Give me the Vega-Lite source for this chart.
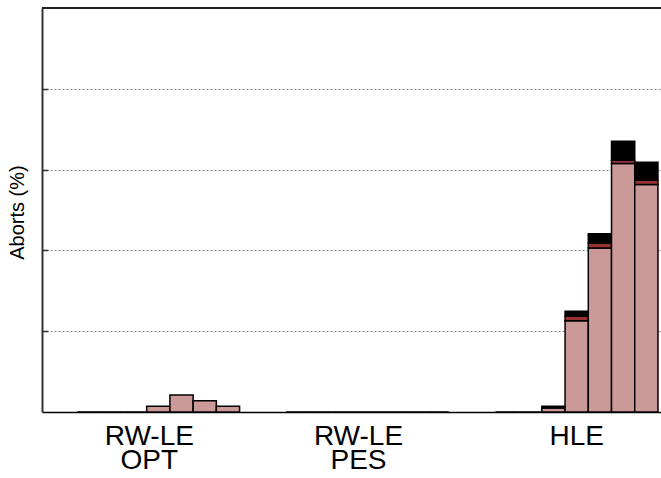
{
  "$schema": "https://vega.github.io/schema/vega-lite/v6.json",
  "width": 619,
  "height": 404,
  "autosize": {"type": "none"},
  "padding": {"left": 42, "top": 8, "right": 0, "bottom": 66},
  "background": "white",
  "config": {
    "view": {"stroke": null},
    "font": "Liberation Sans"
  },
  "data": {
    "values": [
      {"config": "RW-LE OPT", "threads": 1, "type": "a", "pct": 0},
      {"config": "RW-LE OPT", "threads": 2, "type": "a", "pct": 0},
      {"config": "RW-LE OPT", "threads": 3, "type": "a", "pct": 0},
      {"config": "RW-LE OPT", "threads": 4, "type": "a", "pct": 1.4},
      {"config": "RW-LE OPT", "threads": 5, "type": "a", "pct": 4.2},
      {"config": "RW-LE OPT", "threads": 6, "type": "a", "pct": 2.8},
      {"config": "RW-LE OPT", "threads": 7, "type": "a", "pct": 1.4},
      {"config": "RW-LE PES", "threads": 1, "type": "a", "pct": 0},
      {"config": "RW-LE PES", "threads": 2, "type": "a", "pct": 0},
      {"config": "RW-LE PES", "threads": 3, "type": "a", "pct": 0},
      {"config": "RW-LE PES", "threads": 4, "type": "a", "pct": 0},
      {"config": "RW-LE PES", "threads": 5, "type": "a", "pct": 0},
      {"config": "RW-LE PES", "threads": 6, "type": "a", "pct": 0},
      {"config": "RW-LE PES", "threads": 7, "type": "a", "pct": 0},
      {"config": "HLE", "threads": 1, "type": "a", "pct": 0},
      {"config": "HLE", "threads": 2, "type": "a", "pct": 0},
      {"config": "HLE", "threads": 3, "type": "a", "pct": 1.0},
      {"config": "HLE", "threads": 3, "type": "c", "pct": 0.45},
      {"config": "HLE", "threads": 4, "type": "a", "pct": 22.6},
      {"config": "HLE", "threads": 4, "type": "b", "pct": 1.07},
      {"config": "HLE", "threads": 4, "type": "c", "pct": 1.24},
      {"config": "HLE", "threads": 5, "type": "a", "pct": 40.6},
      {"config": "HLE", "threads": 5, "type": "b", "pct": 1.24},
      {"config": "HLE", "threads": 5, "type": "c", "pct": 2.3},
      {"config": "HLE", "threads": 6, "type": "a", "pct": 61.5},
      {"config": "HLE", "threads": 6, "type": "b", "pct": 0.83},
      {"config": "HLE", "threads": 6, "type": "c", "pct": 4.7},
      {"config": "HLE", "threads": 7, "type": "a", "pct": 56.3},
      {"config": "HLE", "threads": 7, "type": "b", "pct": 1.07},
      {"config": "HLE", "threads": 7, "type": "c", "pct": 4.47}
    ]
  },
  "layer": [
    {
      "mark": {"type": "bar", "stroke": "black", "strokeWidth": 1.5},
      "encoding": {
        "x": {
          "field": "config",
          "type": "nominal",
          "sort": ["RW-LE OPT", "RW-LE PES", "HLE"],
          "scale": {"paddingInner": 0.223, "paddingOuter": 0.091, "align": 0.92},
          "axis": {
            "title": null,
            "labelExpr": "split(datum.label, ' ')",
            "labelAngle": 0,
            "labelFontSize": 28,
            "labelColor": "black",
            "labelLineHeight": 24,
            "labelPadding": 10,
            "labelOffset": {"expr": "datum.value == 'HLE' ? 0 : -9"},
            "ticks": false,
            "domainColor": "black",
            "domainWidth": 1.5,
            "grid": false
          }
        },
        "xOffset": {
          "field": "threads",
          "type": "ordinal",
          "scale": {"paddingInner": 0, "paddingOuter": 0}
        },
        "y": {
          "field": "pct",
          "type": "quantitative",
          "stack": "zero",
          "scale": {"domain": [0, 100], "nice": false},
          "axis": {
            "title": "Aborts (%)",
            "titleFontSize": 20,
            "titleFontWeight": "normal",
            "titleColor": "black",
            "titleX": -25,
            "titleY": 204,
            "titleAngle": -90,
            "titleAlign": "center",
            "titleBaseline": "middle",
            "labels": false,
            "values": [20, 40, 60, 80],
            "tickSize": -6,
            "tickColor": "#333",
            "tickWidth": 1.5,
            "domainColor": "#333",
            "domainWidth": 2,
            "grid": true,
            "gridColor": "#888",
            "gridDash": [2, 2],
            "gridWidth": 1
          }
        },
        "color": {
          "field": "type",
          "type": "nominal",
          "scale": {"domain": ["a", "b", "c"], "range": ["#cc9999", "#993333", "#000000"]},
          "legend": null
        },
        "order": {"field": "type", "sort": "ascending"}
      }
    },
    {
      "mark": {"type": "rule", "color": "#222", "strokeWidth": 1.5},
      "encoding": {
        "y": {"datum": 100}
      }
    }
  ]
}
